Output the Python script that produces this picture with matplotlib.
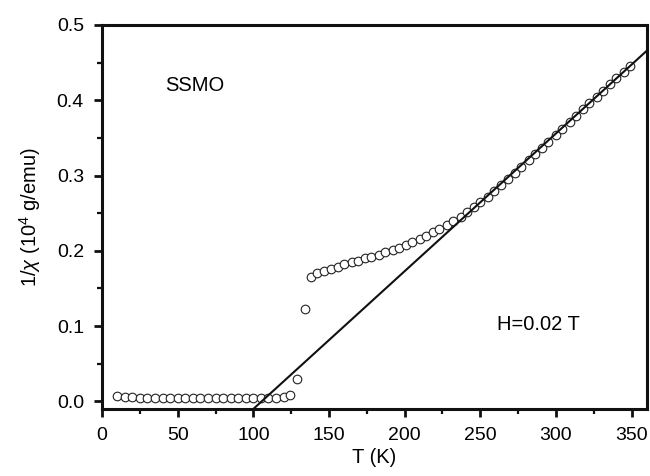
import numpy as np
import matplotlib
matplotlib.use("Agg")
import matplotlib.pyplot as plt
from matplotlib.ticker import MultipleLocator

temp_low = [10, 15, 20, 25, 30, 35, 40, 45, 50, 55, 60, 65, 70, 75, 80, 85,
            90, 95, 100, 105, 110, 115, 120, 124, 129, 134]
chi_low = [0.007, 0.006, 0.006, 0.005, 0.005, 0.005, 0.005, 0.005, 0.005,
           0.005, 0.005, 0.005, 0.005, 0.005, 0.005, 0.005, 0.005, 0.005,
           0.005, 0.005, 0.005, 0.005, 0.006, 0.009, 0.030, 0.123]

temp_high = [138, 142, 147, 151, 156, 160, 165, 169, 174, 178, 183, 187, 192,
             196, 201, 205, 210, 214, 219, 223, 228, 232, 237, 241, 246, 250,
             255, 259, 264, 268, 273, 277, 282, 286, 291, 295, 300, 304, 309,
             313, 318, 322, 327, 331, 336, 340, 345, 349]
chi_high = [0.165, 0.170, 0.173, 0.176, 0.179, 0.182, 0.185, 0.187, 0.190,
            0.192, 0.195, 0.198, 0.201, 0.204, 0.208, 0.212, 0.216, 0.220,
            0.225, 0.229, 0.234, 0.239, 0.245, 0.251, 0.258, 0.265, 0.272,
            0.280, 0.288, 0.296, 0.304, 0.312, 0.320, 0.329, 0.337, 0.345,
            0.354, 0.362, 0.371, 0.379, 0.388, 0.396, 0.404, 0.412, 0.421,
            0.429, 0.437, 0.445]

# Curie-Weiss fit: 1/chi = slope * (T - theta)
theta = 105.5
slope = 0.00183
fit_range = [100, 365]


def plot_data():
    plt.rcParams["font.family"] = ["Liberation Sans", "DejaVu Sans"]
    plt.rcParams["mathtext.fontset"] = "custom"
    plt.rcParams["mathtext.rm"] = "Liberation Sans"
    plt.rcParams["mathtext.it"] = "Liberation Sans:italic"

    fig = plt.figure(figsize=(6.5, 4.76), dpi=100)
    ax = fig.add_axes([0.157, 0.141, 0.838, 0.8065])

    temps = temp_low + temp_high
    chis = chi_low + chi_high
    ax.plot(temps, chis, "o", ms=6.2, mfc="white", mec="#222222", mew=0.8,
            zorder=3)

    t_fit = np.array(fit_range, dtype=float)
    ax.plot(t_fit, slope * (t_fit - theta), color="#111111", lw=1.5, zorder=4)

    ax.set_xlim(0, 360)
    ax.set_ylim(-0.01, 0.5)
    ax.xaxis.set_major_locator(MultipleLocator(50))
    ax.xaxis.set_minor_locator(MultipleLocator(25))
    ax.yaxis.set_major_locator(MultipleLocator(0.1))
    ax.yaxis.set_minor_locator(MultipleLocator(0.05))
    ax.yaxis.set_major_formatter(matplotlib.ticker.FormatStrFormatter("%.1f"))

    for s in ax.spines.values():
        s.set_linewidth(2.2)
        s.set_color("#111111")
    ax.tick_params(which="major", direction="out", length=6, width=2.0,
                   labelsize=14, color="#111111", pad=7)
    ax.tick_params(which="minor", direction="out", length=3.5, width=1.6,
                   color="#111111")

    ax.set_xlabel("T (K)", fontsize=14.5, labelpad=3)
    ax.set_ylabel(r"1/$\chi$ (10$^4$ g/emu)", fontsize=14.5, labelpad=10)

    ax.text(42, 0.42, "SSMO", fontsize=14.5, va="center", ha="left")
    ax.text(261, 0.102, "H=0.02 T", fontsize=14.5, va="center", ha="left")

    fig.savefig("out.png", dpi=100)


if __name__ == "__main__":
    plot_data()
